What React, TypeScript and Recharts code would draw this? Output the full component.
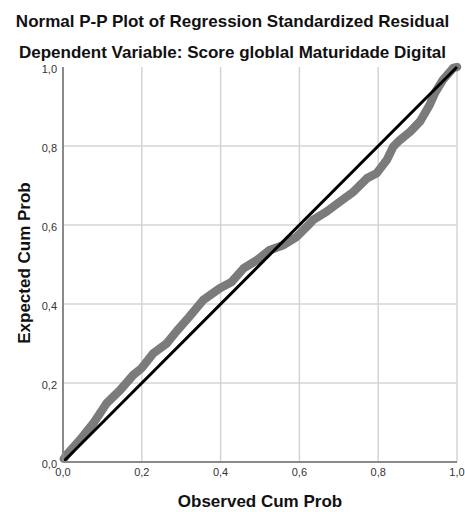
import React from 'react';
import { LineChart, Line, XAxis, YAxis, CartesianGrid, ReferenceLine } from 'recharts';

// Observed cumulative probability of the standardized residuals
const observedCumProb = [
  0.002, 0.009, 0.043, 0.077, 0.111, 0.145, 0.178, 0.2, 0.229, 0.263, 0.289, 0.32,
  0.356, 0.398, 0.428, 0.458, 0.492, 0.525, 0.559, 0.593, 0.623, 0.635, 0.669,
  0.703, 0.737, 0.771, 0.796, 0.822, 0.838, 0.855, 0.881, 0.906, 0.931, 0.944,
  0.964, 0.99, 1.0,
];
// Expected cumulative probability under normality
const expectedCumProb = [
  0.008, 0.018, 0.056, 0.098, 0.149, 0.182, 0.22, 0.238, 0.275, 0.3, 0.332, 0.367,
  0.41, 0.44, 0.456, 0.49, 0.511, 0.537, 0.549, 0.57, 0.6, 0.613, 0.634,
  0.659, 0.684, 0.718, 0.731, 0.765, 0.798, 0.815, 0.836, 0.862, 0.905, 0.934,
  0.967, 0.997, 1.0,
];
const tickValues = [0, 0.2, 0.4, 0.6, 0.8, 1.0];

const data = observedCumProb.map((obs, i) => ({ obs, exp: expectedCumProb[i] }));

const fmt = (v: number) => v.toFixed(1).replace('.', ',');

const FONT = '"Liberation Sans", Arial, sans-serif';

const titleStyle: React.CSSProperties = {
  position: 'absolute',
  left: 0,
  width: 465,
  textAlign: 'center',
  fontSize: 17,
  fontWeight: 'bold',
  color: '#111',
  lineHeight: '20px',
  whiteSpace: 'nowrap',
};

export default function App() {
  const W = 465;
  const H = 512;
  return (
    <div style={{ position: 'absolute', left: 0, top: 0, width: W, height: H, background: '#fff', fontFamily: FONT, overflow: 'hidden' }}>
      <div style={{ ...titleStyle, top: 12 }}>Normal P-P Plot of Regression Standardized Residual</div>
      <div style={{ ...titleStyle, top: 43 }}>Dependent Variable: Score globlal Maturidade Digital</div>
      <div style={{ ...titleStyle, left: 63, width: 394, top: 493, lineHeight: '18px' }}>Observed Cum Prob</div>
      <div style={{ position: 'absolute', left: 25, top: 263, width: 0, height: 0 }}>
        <div style={{ ...titleStyle, left: -100, top: -10, width: 200, transform: 'rotate(-90deg)' }}>
          Expected Cum Prob
        </div>
      </div>
      <div style={{ position: 'absolute', left: 0, top: 0 }}>
        <LineChart width={W} height={H} data={data} margin={{ top: 67, right: 8, bottom: 30, left: 33 }}>
          <CartesianGrid
            stroke="#d4d4d4"
            strokeWidth={1.5}
            horizontalCoordinatesGenerator={({ offset }: any) =>
              [0.2, 0.4, 0.6, 0.8].map((v) => offset.top + offset.height * (1 - v))
            }
            verticalCoordinatesGenerator={({ offset }: any) =>
              [0.2, 0.4, 0.6, 0.8, 1.0].map((v) => offset.left + offset.width * v)
            }
          />
          <XAxis
            type="number"
            dataKey="obs"
            domain={[0, 1]}
            ticks={tickValues}
            tickFormatter={fmt}
            tickLine={false}
            tickSize={0}
            tickMargin={6}
            height={20}
            axisLine={{ stroke: '#8a8a8a', strokeWidth: 2 }}
            tick={{ fontSize: 11, fill: '#333', fontFamily: FONT }}
            interval={0}
          />
          <YAxis
            type="number"
            dataKey="exp"
            domain={[0, 1]}
            ticks={tickValues}
            tickFormatter={fmt}
            tickLine={false}
            tickSize={0}
            tickMargin={6}
            width={30}
            axisLine={{ stroke: '#8a8a8a', strokeWidth: 2 }}
            tick={{ fontSize: 11, fill: '#333', fontFamily: FONT, dy: 2 }}
            interval={0}
          />
          <Line
            type="linear"
            dataKey="exp"
            stroke="#7b7b7b"
            strokeWidth={8.5}
            strokeLinejoin="round"
            strokeLinecap="round"
            dot={false}
            isAnimationActive={false}
          />
          <ReferenceLine
            segment={[{ x: 0, y: 0 }, { x: 1, y: 1 }]}
            stroke="#000"
            strokeWidth={3}
            ifOverflow="visible"
          />
        </LineChart>
      </div>
    </div>
  );
}
